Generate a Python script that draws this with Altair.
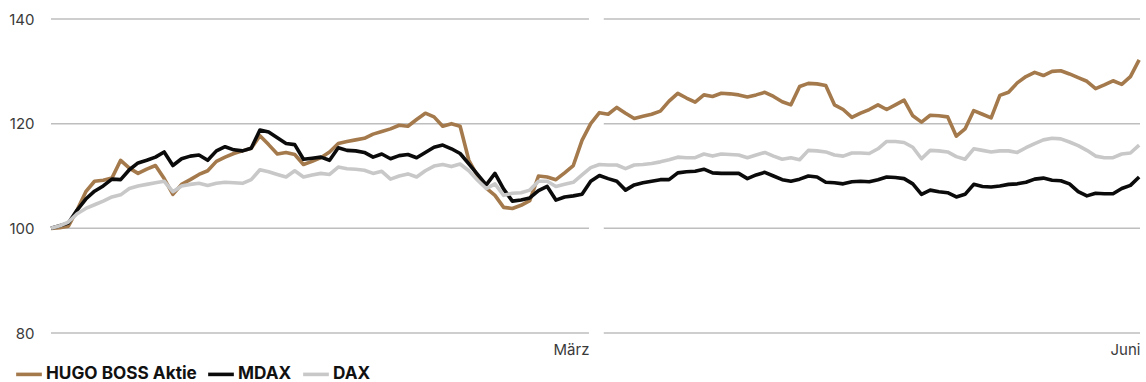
import altair as alt
import pandas as pd

# --- data (index, base 100), one value per trading day ---
hugo_boss = [100, 100.1, 100.4, 103.5, 107, 109, 109.2, 109.6, 113, 111.5,
             110.5, 111.3, 112, 109.5, 106.5, 108.4, 109.3, 110.3, 111, 112.8,
             113.6, 114.3, 114.8, 115.3, 117.7, 116, 114.2, 114.5, 114.1, 112.2,
             112.8, 113.5, 114.6, 116.2, 116.6, 116.9, 117.2, 118, 118.5, 119,
             119.7, 119.5, 120.8, 122, 121.3, 119.5, 120, 119.5, 113, 110,
             107.7, 106.3, 104, 103.8, 104.4, 105.3, 110, 109.8, 109.3, 110.6,
             112, 116.8, 120, 122.1, 121.8, 123.1, 122, 121, 121.4, 121.8,
             122.4, 124.3, 125.8, 124.9, 124.1, 125.5, 125.2, 125.8, 125.7, 125.5,
             125.1, 125.5, 126, 125.2, 124.2, 123.6, 127.1, 127.7, 127.6, 127.3,
             123.6, 122.7, 121.2, 122, 122.7, 123.6, 122.7, 123.6, 124.5, 121.5,
             120.3, 121.6, 121.5, 121.3, 117.6, 119, 122.5, 121.8, 121.1, 125.4,
             126, 127.8, 129, 129.8, 129.2, 130, 130.1, 129.5, 128.8, 128.1,
             126.7, 127.4, 128.2, 127.5, 129, 132.2]

mdax = [100, 100.5, 101, 103.5, 105.6, 107.1, 108.1, 109.4, 109.3, 111.2,
        112.5, 113, 113.6, 114.6, 112, 113.3, 113.8, 114, 113, 114.8,
        115.6, 115, 114.8, 115.3, 118.8, 118.4, 117.3, 116.2, 116, 113.2,
        113.4, 113.6, 113, 115.4, 114.9, 114.8, 114.5, 113.6, 114.2, 113.3,
        113.9, 114.1, 113.5, 114.5, 115.5, 115.9, 115.2, 114.3, 112.3, 110.3,
        108.3, 110.5, 107.5, 105.2, 105.4, 105.8, 107.2, 108, 105.4, 106,
        106.2, 106.5, 109, 110.1, 109.5, 109, 107.3, 108.3, 108.7, 109,
        109.3, 109.3, 110.6, 110.8, 110.9, 111.3, 110.6, 110.5, 110.5, 110.5,
        109.5, 110.2, 110.7, 110, 109.3, 109, 109.4, 110, 109.8, 108.8,
        108.7, 108.5, 108.9, 109, 108.9, 109.3, 109.8, 109.7, 109.5, 108.5,
        106.5, 107.3, 107, 106.8, 106, 106.5, 108.4, 108, 107.9, 108.1,
        108.4, 108.5, 108.8, 109.4, 109.6, 109.2, 109.1, 108.5, 107, 106.2,
        106.7, 106.6, 106.6, 107.6, 108.2, 109.8]

dax = [100, 100.5, 101.2, 102.8, 103.8, 104.5, 105.2, 106, 106.4, 107.6,
       108.1, 108.4, 108.7, 109, 107, 108.1, 108.4, 108.6, 108.2, 108.6,
       108.8, 108.7, 108.6, 109.3, 111.2, 110.8, 110.3, 109.8, 111, 109.8,
       110.2, 110.5, 110.3, 111.7, 111.4, 111.3, 111.1, 110.5, 110.9, 109.4,
       110, 110.4, 109.8, 111, 111.9, 112.2, 111.8, 112.3, 111, 109.2,
       107.6, 108.5, 106.3, 106.7, 106.8, 107.3, 109, 109, 108, 108.4,
       108.8, 110.2, 111.6, 112.2, 112.1, 112.1, 111.4, 112.1, 112.2, 112.4,
       112.7, 113.1, 113.6, 113.5, 113.5, 114.2, 113.8, 114.2, 114.1, 114,
       113.5, 114, 114.5, 113.8, 113.2, 113.5, 113.1, 114.9, 114.8, 114.6,
       114, 113.8, 114.4, 114.4, 114.3, 115.2, 116.6, 116.6, 116.4, 115.5,
       113.3, 114.9, 114.8, 114.6, 113.7, 113.2, 115.2, 114.9, 114.6, 114.8,
       114.8, 114.5, 115.4, 116.2, 116.9, 117.2, 117.1, 116.5, 115.8, 114.9,
       113.8, 113.5, 113.5, 114.2, 114.4, 115.9]

series_names = ["HUGO BOSS Aktie", "MDAX", "DAX"]
series_colors = ["#A47A4C", "#0B0B0B", "#C8C8C8"]

y_ticks = [80, 100, 120, 140]
# quarter segments (trading-day index) used for the split gridlines / month labels
quarter_start = [0, 63.5]
quarter_end = [61.8, 125.1]
quarter_label = ["März", "Juni"]

# --- tables ---
rows = []
for name, vals in zip(series_names, [hugo_boss, mdax, dax]):
    for i, v in enumerate(vals):
        rows.append({"day": i, "value": v, "series": name,
                     "order": {"DAX": 0, "HUGO BOSS Aktie": 1, "MDAX": 2}[name]})
lines_df = pd.DataFrame(rows)

grid_df = pd.DataFrame([
    {"y": t, "x0": s, "x1": e}
    for t in y_ticks for s, e in zip(quarter_start, quarter_end)
])

FONT = "Inter"
x_scale = alt.Scale(domain=[0, quarter_end[-1]], nice=False, zero=False)
y_scale = alt.Scale(domain=[y_ticks[0], y_ticks[-1]], nice=False, zero=False)

label_expr = "datum.value < {} ? '{}' : '{}'".format(
    (quarter_end[0] + quarter_end[1]) / 2, quarter_label[0], quarter_label[1])

x_axis = alt.Axis(values=quarter_end, labelExpr=label_expr, title=None,
                  domain=False, ticks=False, tickSize=0, grid=False,
                  labelAlign="right", labelFlush=False, labelBaseline="top",
                  labelPadding=9, labelFontSize=15, labelColor="#3a3a3a",
                  labelFont=FONT)
y_axis = alt.Axis(values=y_ticks, title=None, domain=False, ticks=False,
                  tickSize=0, grid=False, labelPadding=17, labelFontSize=15,
                  labelColor="#3a3a3a", labelFont=FONT)

grid = alt.Chart(grid_df).mark_rule(color="#BEBEBE", strokeWidth=1.5).encode(
    x=alt.X("x0:Q", scale=x_scale, axis=x_axis),
    x2="x1:Q",
    y=alt.Y("y:Q", scale=y_scale, axis=y_axis),
)

lines = alt.Chart(lines_df).mark_line(strokeWidth=3.6, strokeJoin="round").encode(
    x=alt.X("day:Q", scale=x_scale, axis=x_axis),
    y=alt.Y("value:Q", scale=y_scale, axis=y_axis),
    color=alt.Color(
        "series:N",
        scale=alt.Scale(domain=series_names, range=series_colors),
        sort=series_names,
        legend=alt.Legend(
            title=None, orient="none", legendX=-37, legendY=340,
            direction="horizontal", symbolType="stroke", symbolSize=660,
            symbolStrokeWidth=3.6, labelFont=FONT, labelFontSize=17.2,
            labelFontWeight="bold", labelColor="#111111", labelOffset=2,
            columnPadding=3, padding=0, symbolOffset=0,
        ),
    ),
    order=alt.Order("order:Q"),
    detail="series:N",
)

chart = alt.layer(grid, lines).properties(
    width=1089, height=314,
    autosize=alt.AutoSizeParams(type="none"),
    padding={"left": 51, "top": 19, "right": 6, "bottom": 49},
    background="white",
).configure_view(stroke=None)

chart.save("out.html", embed_options={"renderer": "svg", "actions": False})
